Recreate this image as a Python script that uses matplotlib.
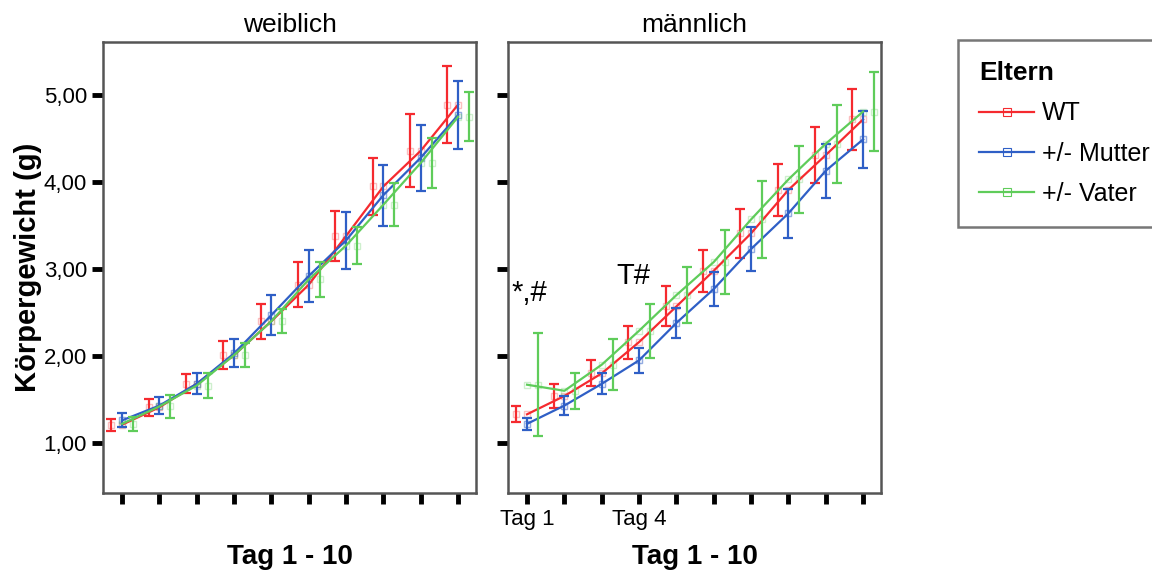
import matplotlib
matplotlib.use("Agg")
import matplotlib.pyplot as plt
import numpy as np
from matplotlib import font_manager
from matplotlib.lines import Line2D

# days 1..10
days = np.arange(1, 11)

# weiblich: means and error bar half widths
w_wt = [1.21, 1.41, 1.68, 2.01, 2.40, 2.82, 3.38, 3.95, 4.36, 4.89]
w_wt_err = [0.07, 0.10, 0.11, 0.16, 0.20, 0.26, 0.29, 0.33, 0.42, 0.44]
w_mut = [1.26, 1.43, 1.68, 2.03, 2.47, 2.92, 3.33, 3.85, 4.28, 4.77]
w_mut_err = [0.08, 0.10, 0.12, 0.16, 0.23, 0.30, 0.33, 0.35, 0.38, 0.39]
w_vat = [1.22, 1.42, 1.66, 2.01, 2.40, 2.88, 3.27, 3.74, 4.22, 4.75]
w_vat_err = [0.08, 0.13, 0.14, 0.14, 0.14, 0.20, 0.21, 0.25, 0.29, 0.28]

# männlich
m_wt = [1.33, 1.54, 1.80, 2.16, 2.57, 2.98, 3.41, 3.91, 4.31, 4.72]
m_wt_err = [0.09, 0.14, 0.15, 0.19, 0.23, 0.24, 0.28, 0.30, 0.32, 0.35]
m_mut = [1.22, 1.43, 1.68, 1.95, 2.38, 2.77, 3.23, 3.64, 4.13, 4.49]
m_mut_err = [0.07, 0.11, 0.12, 0.14, 0.17, 0.20, 0.25, 0.28, 0.31, 0.33]
m_vat = [1.67, 1.60, 1.90, 2.29, 2.70, 3.08, 3.57, 4.03, 4.44, 4.81]
m_vat_err = [0.59, 0.21, 0.29, 0.31, 0.32, 0.37, 0.44, 0.39, 0.45, 0.45]

labels = ["WT", "+/- Mutter", "+/- Vater"]
colors = ["#f52a2f", "#2f5fc6", "#5fcc5a"]
offsets = [-0.29, 0.0, 0.29]
yticks = [1, 2, 3, 4, 5]
ytick_labels = ["1,00", "2,00", "3,00", "4,00", "5,00"]

names = {f.name for f in font_manager.fontManager.ttflist}
narrow = "Liberation Sans Narrow" if "Liberation Sans Narrow" in names else "Liberation Sans"
plt.rcParams["font.family"] = ["Liberation Sans", "DejaVu Sans"]

fig = plt.figure(figsize=(11.52, 5.75), dpi=100)
ax1 = fig.add_axes([103 / 1152, 1 - 493 / 575, 373 / 1152, 451 / 575])
ax2 = fig.add_axes([508 / 1152, 1 - 493 / 575, 373 / 1152, 451 / 575])

panels = [
    (ax1, "weiblich", [w_wt, w_mut, w_vat], [w_wt_err, w_mut_err, w_vat_err]),
    (ax2, "männlich", [m_wt, m_mut, m_vat], [m_wt_err, m_mut_err, m_vat_err]),
]

for ax, title, means, errs in panels:
    for mean, err, col, off in zip(means, errs, colors, offsets):
        ax.plot(days, mean, color=col, lw=1.6, zorder=3)
        ax.plot(days, mean, ls="none", marker="s", ms=5, mfc="none",
                mec=col, alpha=0.3, zorder=2)
        ax.errorbar(days + off, mean, yerr=err, fmt="none", ecolor=col,
                    elinewidth=1.6, capsize=3.5, capthick=1.6, zorder=3)
        ax.plot(days + off, mean, ls="none", marker="s", ms=5, mfc="none",
                mec=col, alpha=0.3, zorder=2)
    ax.set_xlim(0.49, 10.48)
    ax.set_ylim(0.425, 5.61)
    ax.set_xticks(days)
    ax.set_yticks(yticks)
    for s in ax.spines.values():
        s.set_color("#555555")
        s.set_linewidth(1.8)
    ax.tick_params(direction="out", length=8, width=3.5, color="black")
    ax.set_title(title, fontsize=19, pad=7)
    ax.set_xlabel("Tag 1 - 10", fontsize=20, fontweight="bold")
    ax.xaxis.set_label_coords(0.5, -0.142)
    ax.xaxis.label.set_va("center")

ax1.set_xticklabels([])
ax1.set_yticklabels(ytick_labels, family=narrow, fontsize=16)
ax1.set_ylabel("Körpergewicht (g)", fontsize=21, fontweight="bold")
ax1.yaxis.set_label_coords(-0.2, 0.5)
ax1.yaxis.label.set_va("center")
ax2.set_yticklabels([])
ax2.set_xticklabels(["Tag 1", "", "", "Tag 4", "", "", "", "", "", ""],
                    family=narrow, fontsize=16)

ax2.text(1.05, 2.72, "*,#", fontsize=21, ha="center", va="center")
ax2.text(3.85, 2.92, "T#", fontsize=21, ha="center", va="center")

handles = [Line2D([0], [0], color=c, lw=1.6, marker="s", ms=6, mfc="none",
                  mec=c, markeredgewidth=0.8) for c in colors]
leg = fig.legend(handles, labels, loc="upper left", mode="expand",
                 bbox_to_anchor=(958 / 1152, 1 - 40 / 575, 210 / 1152, 0),
                 fontsize=18,
                 title="Eltern", title_fontproperties={"weight": "bold", "size": 19},
                 alignment="left", fancybox=False, edgecolor="#555555",
                 handlelength=2.2, handletextpad=0.3, borderpad=0.85,
                 labelspacing=0.65, borderaxespad=0)
leg.get_frame().set_linewidth(1.8)

fig.savefig("out.png", dpi=100)
